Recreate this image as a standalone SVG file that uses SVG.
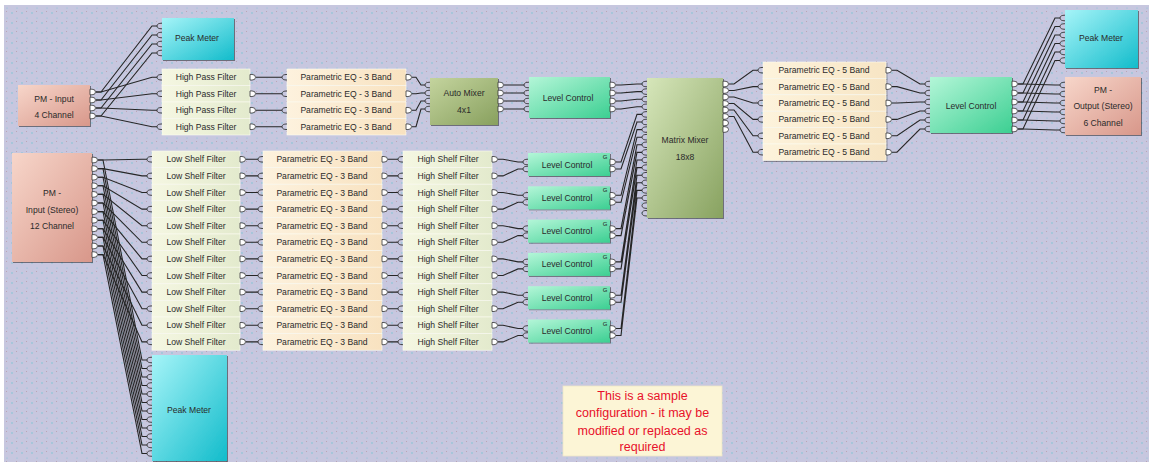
<svg xmlns="http://www.w3.org/2000/svg" xmlns:xlink="http://www.w3.org/1999/xlink" width="1149" height="462" viewBox="0 0 1149 462">
<style>
.t{font-family:"Liberation Sans",Arial,sans-serif;font-size:8.6px;fill:#2a2a2a;text-anchor:middle;dominant-baseline:central}
.g{font-family:"Liberation Sans",Arial,sans-serif;font-size:6px;fill:#222;text-anchor:middle;dominant-baseline:central}
.w{fill:none;stroke:#262626;stroke-width:1.1}
.sh{filter:url(#ds)}
.row{stroke:#fbfbf2;stroke-width:0.6}
.note{font-family:"Liberation Sans",Arial,sans-serif;font-size:12.5px;fill:#e8102a;text-anchor:middle;dominant-baseline:central}
</style>
<defs>
<pattern id="dots" width="10" height="10" patternUnits="userSpaceOnUse">
<rect width="10" height="10" fill="#c7c7df"/>
<circle cx="2" cy="3" r="0.7" fill="#6fc4d6"/>
<circle cx="7" cy="8" r="0.6" fill="#7ec6da"/>
<circle cx="6.5" cy="1.5" r="0.5" fill="#b89aa8"/>
</pattern>
<filter id="ds" x="-10%" y="-10%" width="130%" height="130%">
<feDropShadow dx="1" dy="1" stdDeviation="0.6" flood-color="#000" flood-opacity="0.45"/>
</filter>
<linearGradient id="pink" x1="0" y1="0" x2="1" y2="1"><stop offset="0" stop-color="#f7d6ca"/><stop offset="1" stop-color="#d8978a"/></linearGradient>
<linearGradient id="cyan" x1="0" y1="0" x2="1" y2="1"><stop offset="0" stop-color="#a6f4f8"/><stop offset="1" stop-color="#12bccb"/></linearGradient>
<linearGradient id="cream" x1="0" y1="0" x2="1" y2="0"><stop offset="0" stop-color="#f5f7e2"/><stop offset="1" stop-color="#e3eacd"/></linearGradient>
<linearGradient id="peach" x1="0" y1="0" x2="1" y2="0"><stop offset="0" stop-color="#fdf2de"/><stop offset="1" stop-color="#f8e2c0"/></linearGradient>
<linearGradient id="eq5" x1="0" y1="0" x2="1" y2="0"><stop offset="0" stop-color="#fdf3dc"/><stop offset="1" stop-color="#f7e5c4"/></linearGradient>
<linearGradient id="olive" x1="0" y1="0" x2="1" y2="1"><stop offset="0" stop-color="#c4d49e"/><stop offset="1" stop-color="#88a05e"/></linearGradient>
<linearGradient id="matrix" x1="0" y1="0" x2="1" y2="1"><stop offset="0" stop-color="#d6e6ba"/><stop offset="1" stop-color="#88a260"/></linearGradient>
<linearGradient id="mint" x1="0" y1="0" x2="1" y2="1"><stop offset="0" stop-color="#b4f6d8"/><stop offset="1" stop-color="#3ccf92"/></linearGradient>
<path id="op" d="M0,-2.8 H2 Q5.5,-2.8 5.5,0 Q5.5,2.8 2,2.8 H0 Z" fill="#fff" stroke="#333" stroke-width="0.8"/>
<path id="ip" d="M0,-2.8 Q-5,-2.8 -5,0 Q-5,2.8 0,2.8" fill="none" stroke="#333" stroke-width="0.9"/>
</defs>
<rect width="1149" height="462" fill="#ffffff"/>
<rect x="4" y="5" width="1145" height="457" fill="url(#dots)"/>

<g id="connectors">
<path class="w" d="M96,92 H101 L152,77.25 H157 M96,100 H101 L152,93.75 H157 M96,108 H101 L152,110.25 H157 M96,116 H101 L152,126.75 H157"/>
<path class="w" d="M96,92 H101 L152,26 H157 M96,100 H101 L152,35 H157 M96,108 H101 L152,44 H157 M96,116 H101 L152,53 H157"/>
<path class="w" d="M256,77.25 H282 M256,93.75 H282 M256,110.25 H282 M256,126.75 H282"/>
<path class="w" d="M412,77.25 H416 L421,85 H425 M412,93.75 H416 L421,93 H425 M412,110.25 H416 L421,101 H425 M412,126.75 H416 L421,109 H425"/>
<path class="w" d="M504,85 H524 M504,93 H524 M504,101 H524 M504,109 H524"/>
<path class="w" d="M616,85 H621 L637,84 H642 M616,93 H621 L637,91.6 H642 M616,101 H621 L637,99.2 H642 M616,109 H621 L637,106.8 H642"/>
<path class="w" d="M616,162 H621 L637,114.4 H642 M616,169 H621 L637,122 H642 M616,195.3 H621 L637,129.6 H642 M616,202.3 H621 L637,137.2 H642 M616,228.6 H621 L637,144.8 H642 M616,235.6 H621 L637,152.4 H642 M616,261.9 H621 L637,160 H642 M616,268.9 H621 L637,167.6 H642 M616,295.2 H621 L637,175.2 H642 M616,302.2 H621 L637,182.8 H642 M616,328.5 H621 L637,190.4 H642 M616,335.5 H621 L637,198 H642"/>
<path class="w" d="M729,84 H734 L753,70.2 H758 M729,90.5 H734 L753,86.6 H758 M729,97 H734 L753,103 H758 M729,103.5 H734 L753,119.4 H758 M729,110 H734 L753,135.8 H758 M729,116.5 H734 L753,152.2 H758"/>
<path class="w" d="M892,70.2 H897 L920,84 H925 M892,86.6 H897 L920,93 H925 M892,103 H897 L920,102 H925 M892,119.4 H897 L920,111 H925 M892,135.8 H897 L920,120 H925 M892,152.2 H897 L920,129 H925"/>
<path class="w" d="M1018,84 H1023 L1055,18 H1060 M1018,93 H1023 L1055,26.5 H1060 M1018,102 H1023 L1055,35 H1060 M1018,111 H1023 L1055,43.5 H1060 M1018,120 H1023 L1055,52 H1060 M1018,129 H1023 L1055,60.5 H1060"/>
<path class="w" d="M1018,84 H1023 L1055,85 H1060 M1018,93 H1023 L1055,94 H1060 M1018,102 H1023 L1055,103 H1060 M1018,111 H1023 L1055,112 H1060 M1018,120 H1023 L1055,121 H1060 M1018,129 H1023 L1055,130 H1060"/>
<path class="w" d="M98,160 H103 L142,159.3 H147 M98,168.6 H103 L142,175.9 H147 M98,177.2 H103 L142,192.5 H147 M98,185.8 H103 L142,209.1 H147 M98,194.4 H103 L142,225.7 H147 M98,203 H103 L142,242.3 H147 M98,211.6 H103 L142,258.9 H147 M98,220.2 H103 L142,275.5 H147 M98,228.8 H103 L142,292.1 H147 M98,237.4 H103 L142,308.7 H147 M98,246 H103 L142,325.3 H147 M98,254.6 H103 L142,341.9 H147"/>
<path class="w" d="M98,160 H103 L142,360 H147 M98,168.6 H103 L142,368.5 H147 M98,177.2 H103 L142,377 H147 M98,185.8 H103 L142,385.5 H147 M98,194.4 H103 L142,394 H147 M98,203 H103 L142,402.5 H147 M98,211.6 H103 L142,411 H147 M98,220.2 H103 L142,419.5 H147 M98,228.8 H103 L142,428 H147 M98,237.4 H103 L142,436.5 H147 M98,246 H103 L142,445 H147 M98,254.6 H103 L142,453.5 H147"/>
<path class="w" d="M246,159.3 H258 M246,175.9 H258 M246,192.5 H258 M246,209.1 H258 M246,225.7 H258 M246,242.3 H258 M246,258.9 H258 M246,275.5 H258 M246,292.1 H258 M246,308.7 H258 M246,325.3 H258 M246,341.9 H258"/>
<path class="w" d="M388,159.3 H398 M388,175.9 H398 M388,192.5 H398 M388,209.1 H398 M388,225.7 H398 M388,242.3 H398 M388,258.9 H398 M388,275.5 H398 M388,292.1 H398 M388,308.7 H398 M388,325.3 H398 M388,341.9 H398"/>
<path class="w" d="M498,159.3 H503 L518,162 H523 M498,175.9 H503 L518,169 H523 M498,192.5 H503 L518,195.3 H523 M498,209.1 H503 L518,202.3 H523 M498,225.7 H503 L518,228.6 H523 M498,242.3 H503 L518,235.6 H523 M498,258.9 H503 L518,261.9 H523 M498,275.5 H503 L518,268.9 H523 M498,292.1 H503 L518,295.2 H523 M498,308.7 H503 L518,302.2 H523 M498,325.3 H503 L518,328.5 H523 M498,341.9 H503 L518,335.5 H523"/>
</g>

<g id="pm-input-4ch">
<rect class="sh" x="18" y="85" width="72" height="41" fill="url(#pink)"/>
<text class="t" x="54" y="99">PM - Input</text>
<text class="t" x="54" y="115">4 Channel</text>
<use href="#op" x="90" y="92"/><use href="#op" x="90" y="100"/><use href="#op" x="90" y="108"/><use href="#op" x="90" y="116"/>
</g>

<g id="peak-meter-1">
<rect class="sh" x="162" y="18" width="72" height="42" fill="url(#cyan)"/>
<text class="t" x="197" y="38">Peak Meter</text>
<use href="#ip" x="162" y="26"/><use href="#ip" x="162" y="35"/><use href="#ip" x="162" y="44"/><use href="#ip" x="162" y="53"/>
</g>

<g id="hpf">
<rect class="row" x="162" y="69" width="88" height="16.5" fill="url(#cream)"/>
<rect class="row" x="162" y="85.5" width="88" height="16.5" fill="url(#cream)"/>
<rect class="row" x="162" y="102" width="88" height="16.5" fill="url(#cream)"/>
<rect class="row" x="162" y="118.5" width="88" height="16.5" fill="url(#cream)"/>
<text class="t" x="206" y="77.25">High Pass Filter</text>
<text class="t" x="206" y="93.75">High Pass Filter</text>
<text class="t" x="206" y="110.25">High Pass Filter</text>
<text class="t" x="206" y="126.75">High Pass Filter</text>
<use href="#ip" x="162" y="77.25"/><use href="#ip" x="162" y="93.75"/><use href="#ip" x="162" y="110.25"/><use href="#ip" x="162" y="126.75"/>
<use href="#op" x="250" y="77.25"/><use href="#op" x="250" y="93.75"/><use href="#op" x="250" y="110.25"/><use href="#op" x="250" y="126.75"/>
</g>

<g id="peq3-top">
<rect class="row" x="287" y="69" width="119" height="16.5" fill="url(#peach)"/>
<rect class="row" x="287" y="85.5" width="119" height="16.5" fill="url(#peach)"/>
<rect class="row" x="287" y="102" width="119" height="16.5" fill="url(#peach)"/>
<rect class="row" x="287" y="118.5" width="119" height="16.5" fill="url(#peach)"/>
<text class="t" x="346" y="77.25">Parametric EQ - 3 Band</text>
<text class="t" x="346" y="93.75">Parametric EQ - 3 Band</text>
<text class="t" x="346" y="110.25">Parametric EQ - 3 Band</text>
<text class="t" x="346" y="126.75">Parametric EQ - 3 Band</text>
<use href="#ip" x="287" y="77.25"/><use href="#ip" x="287" y="93.75"/><use href="#ip" x="287" y="110.25"/><use href="#ip" x="287" y="126.75"/>
<use href="#op" x="406" y="77.25"/><use href="#op" x="406" y="93.75"/><use href="#op" x="406" y="110.25"/><use href="#op" x="406" y="126.75"/>
</g>

<g id="auto-mixer">
<rect class="sh" x="430" y="78" width="68" height="47" fill="url(#olive)"/>
<text class="t" x="464" y="93">Auto Mixer</text>
<text class="t" x="464" y="110">4x1</text>
<use href="#ip" x="430" y="85"/><use href="#ip" x="430" y="93"/><use href="#ip" x="430" y="101"/><use href="#ip" x="430" y="109"/>
<use href="#op" x="498" y="85"/><use href="#op" x="498" y="93"/><use href="#op" x="498" y="101"/><use href="#op" x="498" y="109"/>
</g>

<g id="level-control-top">
<rect class="sh" x="529" y="77" width="81" height="41" fill="url(#mint)"/>
<text class="t" x="568" y="98">Level Control</text>
<use href="#ip" x="529" y="85"/><use href="#ip" x="529" y="93"/><use href="#ip" x="529" y="101"/><use href="#ip" x="529" y="109"/>
<use href="#op" x="610" y="85"/><use href="#op" x="610" y="93"/><use href="#op" x="610" y="101"/><use href="#op" x="610" y="109"/>
</g>

<g id="matrix-mixer">
<rect class="sh" x="647" y="78" width="76" height="140" fill="url(#matrix)"/>
<text class="t" x="685" y="140">Matrix Mixer</text>
<text class="t" x="685" y="157">18x8</text>
<use href="#ip" x="647" y="84"/><use href="#ip" x="647" y="91.6"/><use href="#ip" x="647" y="99.2"/><use href="#ip" x="647" y="106.8"/><use href="#ip" x="647" y="114.4"/><use href="#ip" x="647" y="122"/><use href="#ip" x="647" y="129.6"/><use href="#ip" x="647" y="137.2"/><use href="#ip" x="647" y="144.8"/><use href="#ip" x="647" y="152.4"/><use href="#ip" x="647" y="160"/><use href="#ip" x="647" y="167.6"/><use href="#ip" x="647" y="175.2"/><use href="#ip" x="647" y="182.8"/><use href="#ip" x="647" y="190.4"/><use href="#ip" x="647" y="198"/><use href="#ip" x="647" y="205.6"/><use href="#ip" x="647" y="213.2"/>
<use href="#op" x="723" y="84"/><use href="#op" x="723" y="90.5"/><use href="#op" x="723" y="97"/><use href="#op" x="723" y="103.5"/><use href="#op" x="723" y="110"/><use href="#op" x="723" y="116.5"/><use href="#op" x="723" y="123"/><use href="#op" x="723" y="129.5"/>
</g>

<g id="peq5">
<rect class="row sh" x="763" y="62" width="123" height="16.4" fill="url(#eq5)"/>
<rect class="row sh" x="763" y="78.4" width="123" height="16.4" fill="url(#eq5)"/>
<rect class="row sh" x="763" y="94.8" width="123" height="16.4" fill="url(#eq5)"/>
<rect class="row sh" x="763" y="111.2" width="123" height="16.4" fill="url(#eq5)"/>
<rect class="row sh" x="763" y="127.6" width="123" height="16.4" fill="url(#eq5)"/>
<rect class="row sh" x="763" y="144" width="123" height="16.4" fill="url(#eq5)"/>
<text class="t" x="824" y="70.2">Parametric EQ - 5 Band</text>
<text class="t" x="824" y="86.6">Parametric EQ - 5 Band</text>
<text class="t" x="824" y="103">Parametric EQ - 5 Band</text>
<text class="t" x="824" y="119.4">Parametric EQ - 5 Band</text>
<text class="t" x="824" y="135.8">Parametric EQ - 5 Band</text>
<text class="t" x="824" y="152.2">Parametric EQ - 5 Band</text>
<use href="#ip" x="763" y="70.2"/><use href="#ip" x="763" y="86.6"/><use href="#ip" x="763" y="103"/><use href="#ip" x="763" y="119.4"/><use href="#ip" x="763" y="135.8"/><use href="#ip" x="763" y="152.2"/>
<use href="#op" x="886" y="70.2"/><use href="#op" x="886" y="86.6"/><use href="#op" x="886" y="103"/><use href="#op" x="886" y="119.4"/><use href="#op" x="886" y="135.8"/><use href="#op" x="886" y="152.2"/>
</g>

<g id="level-control-right">
<rect class="sh" x="930" y="77" width="82" height="56" fill="url(#mint)"/>
<text class="t" x="971" y="106">Level Control</text>
<use href="#ip" x="930" y="84"/><use href="#ip" x="930" y="93"/><use href="#ip" x="930" y="102"/><use href="#ip" x="930" y="111"/><use href="#ip" x="930" y="120"/><use href="#ip" x="930" y="129"/>
<use href="#op" x="1012" y="84"/><use href="#op" x="1012" y="93"/><use href="#op" x="1012" y="102"/><use href="#op" x="1012" y="111"/><use href="#op" x="1012" y="120"/><use href="#op" x="1012" y="129"/>
</g>

<g id="peak-meter-2">
<rect class="sh" x="1065" y="10" width="73" height="58" fill="url(#cyan)"/>
<text class="t" x="1101" y="38">Peak Meter</text>
<use href="#ip" x="1065" y="18"/><use href="#ip" x="1065" y="26.5"/><use href="#ip" x="1065" y="35"/><use href="#ip" x="1065" y="43.5"/><use href="#ip" x="1065" y="52"/><use href="#ip" x="1065" y="60.5"/>
</g>

<g id="pm-output">
<rect class="sh" x="1065" y="77" width="76" height="58" fill="url(#pink)"/>
<text class="t" x="1103" y="90">PM -</text>
<text class="t" x="1103" y="106">Output (Stereo)</text>
<text class="t" x="1103" y="123">6 Channel</text>
<use href="#ip" x="1065" y="85"/><use href="#ip" x="1065" y="94"/><use href="#ip" x="1065" y="103"/><use href="#ip" x="1065" y="112"/><use href="#ip" x="1065" y="121"/><use href="#ip" x="1065" y="130"/>
</g>

<g id="pm-input-12ch">
<rect class="sh" x="12" y="153" width="80" height="109" fill="url(#pink)"/>
<text class="t" x="52" y="193">PM -</text>
<text class="t" x="52" y="210">Input (Stereo)</text>
<text class="t" x="52" y="226">12 Channel</text>
<use href="#op" x="92" y="160"/><use href="#op" x="92" y="168.6"/><use href="#op" x="92" y="177.2"/><use href="#op" x="92" y="185.8"/><use href="#op" x="92" y="194.4"/><use href="#op" x="92" y="203"/><use href="#op" x="92" y="211.6"/><use href="#op" x="92" y="220.2"/><use href="#op" x="92" y="228.8"/><use href="#op" x="92" y="237.4"/><use href="#op" x="92" y="246"/><use href="#op" x="92" y="254.6"/>
</g>

<g id="lsf">
<rect class="row" x="152" y="151" width="88" height="16.6" fill="url(#cream)"/>
<rect class="row" x="152" y="167.6" width="88" height="16.6" fill="url(#cream)"/>
<rect class="row" x="152" y="184.2" width="88" height="16.6" fill="url(#cream)"/>
<rect class="row" x="152" y="200.8" width="88" height="16.6" fill="url(#cream)"/>
<rect class="row" x="152" y="217.4" width="88" height="16.6" fill="url(#cream)"/>
<rect class="row" x="152" y="234" width="88" height="16.6" fill="url(#cream)"/>
<rect class="row" x="152" y="250.6" width="88" height="16.6" fill="url(#cream)"/>
<rect class="row" x="152" y="267.2" width="88" height="16.6" fill="url(#cream)"/>
<rect class="row" x="152" y="283.8" width="88" height="16.6" fill="url(#cream)"/>
<rect class="row" x="152" y="300.4" width="88" height="16.6" fill="url(#cream)"/>
<rect class="row" x="152" y="317" width="88" height="16.6" fill="url(#cream)"/>
<rect class="row" x="152" y="333.6" width="88" height="16.6" fill="url(#cream)"/>
<text class="t" x="196" y="159.3">Low Shelf Filter</text>
<text class="t" x="196" y="175.9">Low Shelf Filter</text>
<text class="t" x="196" y="192.5">Low Shelf Filter</text>
<text class="t" x="196" y="209.1">Low Shelf Filter</text>
<text class="t" x="196" y="225.7">Low Shelf Filter</text>
<text class="t" x="196" y="242.3">Low Shelf Filter</text>
<text class="t" x="196" y="258.9">Low Shelf Filter</text>
<text class="t" x="196" y="275.5">Low Shelf Filter</text>
<text class="t" x="196" y="292.1">Low Shelf Filter</text>
<text class="t" x="196" y="308.7">Low Shelf Filter</text>
<text class="t" x="196" y="325.3">Low Shelf Filter</text>
<text class="t" x="196" y="341.9">Low Shelf Filter</text>
<use href="#ip" x="152" y="159.3"/><use href="#ip" x="152" y="175.9"/><use href="#ip" x="152" y="192.5"/><use href="#ip" x="152" y="209.1"/><use href="#ip" x="152" y="225.7"/><use href="#ip" x="152" y="242.3"/><use href="#ip" x="152" y="258.9"/><use href="#ip" x="152" y="275.5"/><use href="#ip" x="152" y="292.1"/><use href="#ip" x="152" y="308.7"/><use href="#ip" x="152" y="325.3"/><use href="#ip" x="152" y="341.9"/>
<use href="#op" x="240" y="159.3"/><use href="#op" x="240" y="175.9"/><use href="#op" x="240" y="192.5"/><use href="#op" x="240" y="209.1"/><use href="#op" x="240" y="225.7"/><use href="#op" x="240" y="242.3"/><use href="#op" x="240" y="258.9"/><use href="#op" x="240" y="275.5"/><use href="#op" x="240" y="292.1"/><use href="#op" x="240" y="308.7"/><use href="#op" x="240" y="325.3"/><use href="#op" x="240" y="341.9"/>
</g>

<g id="peq3-bottom">
<rect class="row" x="263" y="151" width="119" height="16.6" fill="url(#peach)"/>
<rect class="row" x="263" y="167.6" width="119" height="16.6" fill="url(#peach)"/>
<rect class="row" x="263" y="184.2" width="119" height="16.6" fill="url(#peach)"/>
<rect class="row" x="263" y="200.8" width="119" height="16.6" fill="url(#peach)"/>
<rect class="row" x="263" y="217.4" width="119" height="16.6" fill="url(#peach)"/>
<rect class="row" x="263" y="234" width="119" height="16.6" fill="url(#peach)"/>
<rect class="row" x="263" y="250.6" width="119" height="16.6" fill="url(#peach)"/>
<rect class="row" x="263" y="267.2" width="119" height="16.6" fill="url(#peach)"/>
<rect class="row" x="263" y="283.8" width="119" height="16.6" fill="url(#peach)"/>
<rect class="row" x="263" y="300.4" width="119" height="16.6" fill="url(#peach)"/>
<rect class="row" x="263" y="317" width="119" height="16.6" fill="url(#peach)"/>
<rect class="row" x="263" y="333.6" width="119" height="16.6" fill="url(#peach)"/>
<text class="t" x="322" y="159.3">Parametric EQ - 3 Band</text>
<text class="t" x="322" y="175.9">Parametric EQ - 3 Band</text>
<text class="t" x="322" y="192.5">Parametric EQ - 3 Band</text>
<text class="t" x="322" y="209.1">Parametric EQ - 3 Band</text>
<text class="t" x="322" y="225.7">Parametric EQ - 3 Band</text>
<text class="t" x="322" y="242.3">Parametric EQ - 3 Band</text>
<text class="t" x="322" y="258.9">Parametric EQ - 3 Band</text>
<text class="t" x="322" y="275.5">Parametric EQ - 3 Band</text>
<text class="t" x="322" y="292.1">Parametric EQ - 3 Band</text>
<text class="t" x="322" y="308.7">Parametric EQ - 3 Band</text>
<text class="t" x="322" y="325.3">Parametric EQ - 3 Band</text>
<text class="t" x="322" y="341.9">Parametric EQ - 3 Band</text>
<use href="#ip" x="263" y="159.3"/><use href="#ip" x="263" y="175.9"/><use href="#ip" x="263" y="192.5"/><use href="#ip" x="263" y="209.1"/><use href="#ip" x="263" y="225.7"/><use href="#ip" x="263" y="242.3"/><use href="#ip" x="263" y="258.9"/><use href="#ip" x="263" y="275.5"/><use href="#ip" x="263" y="292.1"/><use href="#ip" x="263" y="308.7"/><use href="#ip" x="263" y="325.3"/><use href="#ip" x="263" y="341.9"/>
<use href="#op" x="382" y="159.3"/><use href="#op" x="382" y="175.9"/><use href="#op" x="382" y="192.5"/><use href="#op" x="382" y="209.1"/><use href="#op" x="382" y="225.7"/><use href="#op" x="382" y="242.3"/><use href="#op" x="382" y="258.9"/><use href="#op" x="382" y="275.5"/><use href="#op" x="382" y="292.1"/><use href="#op" x="382" y="308.7"/><use href="#op" x="382" y="325.3"/><use href="#op" x="382" y="341.9"/>
</g>

<g id="hsf">
<rect class="row" x="403" y="151" width="89" height="16.6" fill="url(#cream)"/>
<rect class="row" x="403" y="167.6" width="89" height="16.6" fill="url(#cream)"/>
<rect class="row" x="403" y="184.2" width="89" height="16.6" fill="url(#cream)"/>
<rect class="row" x="403" y="200.8" width="89" height="16.6" fill="url(#cream)"/>
<rect class="row" x="403" y="217.4" width="89" height="16.6" fill="url(#cream)"/>
<rect class="row" x="403" y="234" width="89" height="16.6" fill="url(#cream)"/>
<rect class="row" x="403" y="250.6" width="89" height="16.6" fill="url(#cream)"/>
<rect class="row" x="403" y="267.2" width="89" height="16.6" fill="url(#cream)"/>
<rect class="row" x="403" y="283.8" width="89" height="16.6" fill="url(#cream)"/>
<rect class="row" x="403" y="300.4" width="89" height="16.6" fill="url(#cream)"/>
<rect class="row" x="403" y="317" width="89" height="16.6" fill="url(#cream)"/>
<rect class="row" x="403" y="333.6" width="89" height="16.6" fill="url(#cream)"/>
<text class="t" x="448" y="159.3">High Shelf Filter</text>
<text class="t" x="448" y="175.9">High Shelf Filter</text>
<text class="t" x="448" y="192.5">High Shelf Filter</text>
<text class="t" x="448" y="209.1">High Shelf Filter</text>
<text class="t" x="448" y="225.7">High Shelf Filter</text>
<text class="t" x="448" y="242.3">High Shelf Filter</text>
<text class="t" x="448" y="258.9">High Shelf Filter</text>
<text class="t" x="448" y="275.5">High Shelf Filter</text>
<text class="t" x="448" y="292.1">High Shelf Filter</text>
<text class="t" x="448" y="308.7">High Shelf Filter</text>
<text class="t" x="448" y="325.3">High Shelf Filter</text>
<text class="t" x="448" y="341.9">High Shelf Filter</text>
<use href="#ip" x="403" y="159.3"/><use href="#ip" x="403" y="175.9"/><use href="#ip" x="403" y="192.5"/><use href="#ip" x="403" y="209.1"/><use href="#ip" x="403" y="225.7"/><use href="#ip" x="403" y="242.3"/><use href="#ip" x="403" y="258.9"/><use href="#ip" x="403" y="275.5"/><use href="#ip" x="403" y="292.1"/><use href="#ip" x="403" y="308.7"/><use href="#ip" x="403" y="325.3"/><use href="#ip" x="403" y="341.9"/>
<use href="#op" x="492" y="159.3"/><use href="#op" x="492" y="175.9"/><use href="#op" x="492" y="192.5"/><use href="#op" x="492" y="209.1"/><use href="#op" x="492" y="225.7"/><use href="#op" x="492" y="242.3"/><use href="#op" x="492" y="258.9"/><use href="#op" x="492" y="275.5"/><use href="#op" x="492" y="292.1"/><use href="#op" x="492" y="308.7"/><use href="#op" x="492" y="325.3"/><use href="#op" x="492" y="341.9"/>
</g>

<g id="level-control-1">
<rect class="sh" x="528" y="153" width="82" height="23" fill="url(#mint)"/>
<text class="t" x="567" y="164.5">Level Control</text><text class="g" x="605" y="157">G</text>
<use href="#ip" x="528" y="162"/><use href="#ip" x="528" y="169"/><use href="#op" x="610" y="162"/><use href="#op" x="610" y="169"/>
</g>
<g id="level-control-2">
<rect class="sh" x="528" y="186.3" width="82" height="23" fill="url(#mint)"/>
<text class="t" x="567" y="197.8">Level Control</text><text class="g" x="605" y="190.3">G</text>
<use href="#ip" x="528" y="195.3"/><use href="#ip" x="528" y="202.3"/><use href="#op" x="610" y="195.3"/><use href="#op" x="610" y="202.3"/>
</g>
<g id="level-control-3">
<rect class="sh" x="528" y="219.6" width="82" height="23" fill="url(#mint)"/>
<text class="t" x="567" y="231.1">Level Control</text><text class="g" x="605" y="223.6">G</text>
<use href="#ip" x="528" y="228.6"/><use href="#ip" x="528" y="235.6"/><use href="#op" x="610" y="228.6"/><use href="#op" x="610" y="235.6"/>
</g>
<g id="level-control-4">
<rect class="sh" x="528" y="252.9" width="82" height="23" fill="url(#mint)"/>
<text class="t" x="567" y="264.4">Level Control</text><text class="g" x="605" y="256.9">G</text>
<use href="#ip" x="528" y="261.9"/><use href="#ip" x="528" y="268.9"/><use href="#op" x="610" y="261.9"/><use href="#op" x="610" y="268.9"/>
</g>
<g id="level-control-5">
<rect class="sh" x="528" y="286.2" width="82" height="23" fill="url(#mint)"/>
<text class="t" x="567" y="297.7">Level Control</text><text class="g" x="605" y="290.2">G</text>
<use href="#ip" x="528" y="295.2"/><use href="#ip" x="528" y="302.2"/><use href="#op" x="610" y="295.2"/><use href="#op" x="610" y="302.2"/>
</g>
<g id="level-control-6">
<rect class="sh" x="528" y="319.5" width="82" height="23" fill="url(#mint)"/>
<text class="t" x="567" y="331">Level Control</text><text class="g" x="605" y="323.5">G</text>
<use href="#ip" x="528" y="328.5"/><use href="#ip" x="528" y="335.5"/><use href="#op" x="610" y="328.5"/><use href="#op" x="610" y="335.5"/>
</g>

<g id="peak-meter-3">
<rect class="sh" x="152" y="355" width="75" height="106" fill="url(#cyan)"/>
<text class="t" x="189" y="410">Peak Meter</text>
<use href="#ip" x="152" y="360"/><use href="#ip" x="152" y="368.5"/><use href="#ip" x="152" y="377"/><use href="#ip" x="152" y="385.5"/><use href="#ip" x="152" y="394"/><use href="#ip" x="152" y="402.5"/><use href="#ip" x="152" y="411"/><use href="#ip" x="152" y="419.5"/><use href="#ip" x="152" y="428"/><use href="#ip" x="152" y="436.5"/><use href="#ip" x="152" y="445"/><use href="#ip" x="152" y="453.5"/>
</g>

<g id="note">
<rect x="563" y="386" width="159" height="70" fill="#fcf5d6" stroke="#eee6c8" stroke-width="0.8"/>
<text class="note" x="642.5" y="396">This is a sample</text>
<text class="note" x="642.5" y="413">configuration - it may be</text>
<text class="note" x="642.5" y="430.5">modified or replaced as</text>
<text class="note" x="642.5" y="447">required</text>
</g>
</svg>
